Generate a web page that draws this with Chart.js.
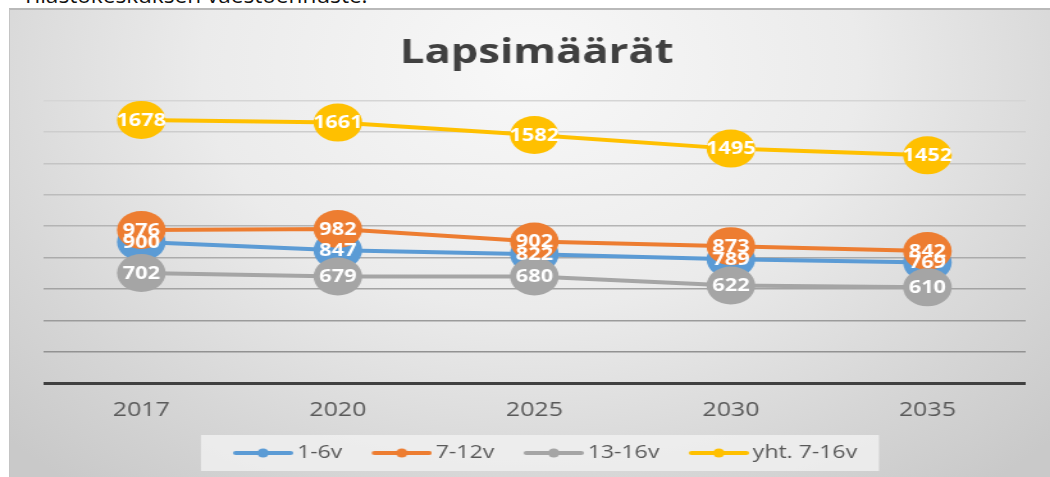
<!DOCTYPE html>
<html>
<head>
<meta charset="utf-8">
<script src="https://cdn.jsdelivr.net/npm/chart.js@4.4.1/dist/chart.umd.min.js"></script>
<style>
  body { margin: 0; width: 1050px; height: 477px; overflow: hidden; position: relative; background: #fff; font-family: 'Open Sans', sans-serif; }
  #note { position: absolute; left: 22px; top: -17px; font-size: 22.6px; line-height: 24px; color: #111; white-space: nowrap; }
  #frame {
    position: absolute; left: 9px; top: 8px; width: 1041px; height: 469px; box-sizing: border-box;
    border-top: 2px solid #b9b9b9; border-left: 1px solid #c4c4c4;
    background: radial-gradient(ellipse 70% 115% at 50% 12%, #f8f8f8 0%, #ebebeb 45%, #d6d6d6 78%, #c9c9c9 100%);
  }
  #chart { position: absolute; left: 9px; top: 8px; }
</style>
</head>
<body>
<div id="note">Tilastokeskuksen väestöennuste.</div>
<div id="frame"></div>
<!-- the reference is stretched sideways, so the canvas is drawn narrow and widened by css -->
<canvas id="chart" width="813" height="469" style="width:1041px;height:469px"></canvas>
<script>
const years = ['2017', '2020', '2025', '2030', '2035'];
const kids1to6 = [900, 847, 822, 789, 769];
const kids7to12 = [976, 982, 902, 873, 842];
const kids13to16 = [702, 679, 680, 622, 610];
const total7to16 = [1678, 1661, 1582, 1495, 1452];
const seriesNames = ['1-6v', '7-12v', '13-16v', 'yht. 7-16v'];
const yMin = 0;
const yMax = 1800;
const yStep = 200;

const seriesColors = ['#5b9bd5', '#ed7d31', '#a5a5a5', '#ffc000'];

Chart.defaults.font.family = "'Open Sans', sans-serif";

// line-with-dot picture for the legend; the empty left part
// pushes the line away from the previous item
function legendMark(color) {
    const c = document.createElement('canvas');
    c.width = 66;
    c.height = 12;
    const g = c.getContext('2d');
    g.strokeStyle = color;
    g.lineWidth = 4;
    g.lineCap = 'round';
    g.beginPath();
    g.moveTo(21, 6);
    g.lineTo(64, 6);
    g.stroke();
    g.fillStyle = color;
    g.beginPath();
    g.arc(42.5, 6, 4.5, 0, Math.PI * 2);
    g.fill();
    return c;
}

// gridlines get lighter towards the top, like the original
function gridShade(value) {
    if (value === 0) return '#404040';
    let t = value / yMax;
    let v = Math.round(138 + t * 75);
    return `rgb(${v},${v},${v})`;
}

const legendBg = {
    id: 'legendBg',
    beforeDraw(chart) {
        const boxes = chart.legend && chart.legend.legendHitBoxes;
        if (!boxes || !boxes.length) return;
        const first = boxes[0];
        const last = boxes[boxes.length - 1];
        const left = first.left - 12;
        const right = last.left + last.width + 17;
        const ctx = chart.ctx;
        ctx.save();
        ctx.fillStyle = 'rgba(240,240,240,0.85)';
        ctx.fillRect(left, first.top + first.height / 2 - 18, right - left, 36);
        ctx.restore();
    }
};

const valueLabels = {
    id: 'valueLabels',
    afterDatasetsDraw(chart) {
        const ctx = chart.ctx;
        ctx.save();
        ctx.font = "bold 17px 'Open Sans', sans-serif";
        ctx.fillStyle = '#ffffff';
        ctx.textAlign = 'center';
        ctx.textBaseline = 'middle';
        chart.data.datasets.forEach((ds, i) => {
            chart.getDatasetMeta(i).data.forEach((pt, j) => {
                ctx.fillText(ds.data[j], pt.x, pt.y + 1);
            });
        });
        ctx.restore();
    }
};

function makeSeries(name, values, color, order) {
    return {
        label: name,
        data: values,
        borderColor: color,
        backgroundColor: color,
        borderWidth: 4,
        pointRadius: 19,
        pointHoverRadius: 19,
        pointBackgroundColor: color,
        pointBorderWidth: 0,
        fill: false,
        tension: 0,
        order: order
    };
}

new Chart(document.getElementById('chart').getContext('2d'), {
    type: 'line',
    data: {
        labels: years,
        datasets: [
            makeSeries(seriesNames[0], kids1to6, seriesColors[0], 4),
            makeSeries(seriesNames[1], kids7to12, seriesColors[1], 3),
            makeSeries(seriesNames[2], kids13to16, seriesColors[2], 2),
            makeSeries(seriesNames[3], total7to16, seriesColors[3], 1)
        ]
    },
    options: {
        responsive: false,
        devicePixelRatio: 1,
        animation: false,
        layout: { padding: { left: 26.6, right: 15.3, top: 0, bottom: 5 } },
        scales: {
            x: {
                offset: true,
                grid: { display: false, drawTicks: false },
                border: { display: false },
                ticks: { color: '#595959', font: { size: 19.5 }, padding: 15.3 },
                afterFit: (s) => { s.height = 51; }
            },
            y: {
                min: yMin,
                max: yMax,
                border: { display: false },
                ticks: { display: false, stepSize: yStep },
                grid: {
                    drawTicks: false,
                    color: (c) => gridShade(c.tick.value),
                    lineWidth: (c) => c.tick.value === 0 ? 3 : 1.5
                }
            }
        },
        plugins: {
            title: {
                display: true,
                text: 'Lapsimäärät',
                color: '#404040',
                font: { size: 34, weight: 'bold' },
                padding: { top: 25, bottom: 27 }
            },
            legend: {
                position: 'bottom',
                labels: {
                    usePointStyle: true,
                    pointStyleWidth: 54,
                    color: '#595959',
                    font: { size: 18 },
                    padding: 10,
                    sort: (a, b) => a.datasetIndex - b.datasetIndex,
                    generateLabels(chart) {
                        const items = Chart.defaults.plugins.legend.labels.generateLabels(chart);
                        items.forEach(it => { it.pointStyle = legendMark(seriesColors[it.datasetIndex]); });
                        return items;
                    }
                }
            },
            tooltip: { enabled: false }
        }
    },
    plugins: [legendBg, valueLabels]
});
</script>
</body>
</html>
